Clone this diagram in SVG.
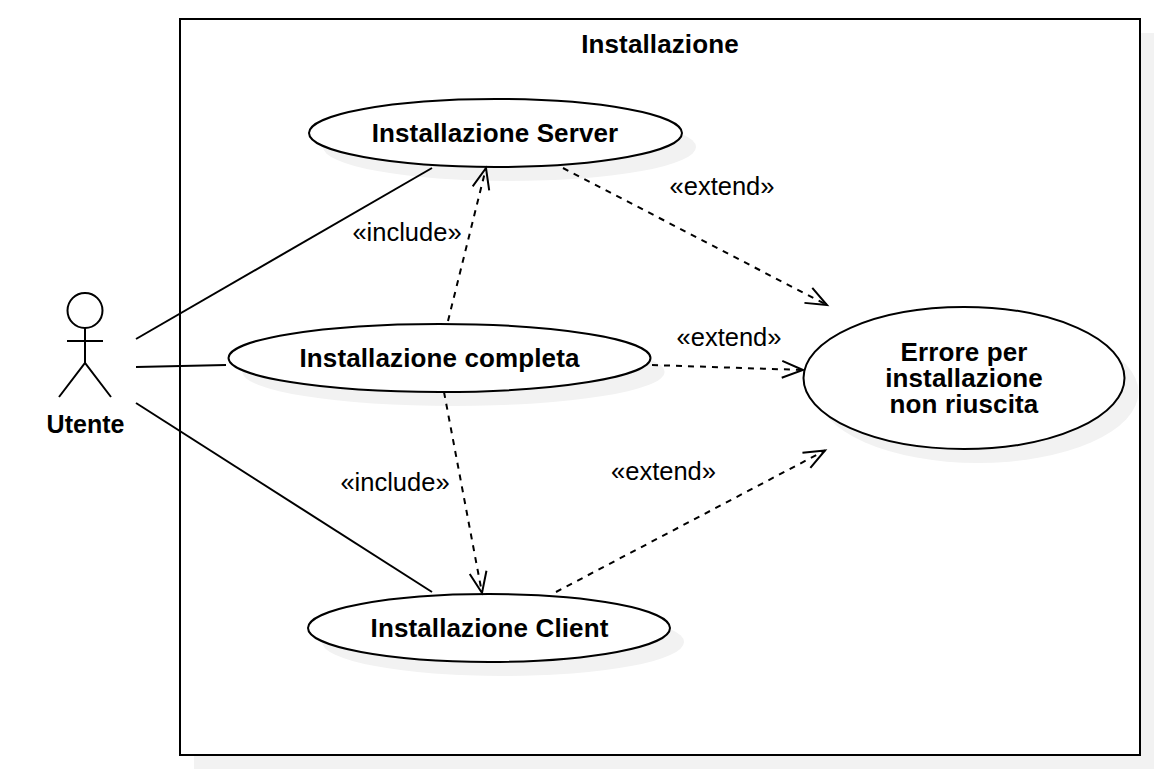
<svg xmlns="http://www.w3.org/2000/svg" width="1176" height="769" viewBox="0 0 1176 769">
<style>
.shadow{fill:#f2f2f2;stroke:none}
.shape{fill:#fff;stroke:#000;stroke-width:2}
.line{fill:none;stroke:#000;stroke-width:2}
.dash{fill:none;stroke:#000;stroke-width:2;stroke-dasharray:6 6}
.b{font-family:"Liberation Sans",Arial,sans-serif;font-weight:700;font-size:26px;letter-spacing:.12px;fill:#000;text-anchor:middle}
.a{font-family:"Liberation Sans",Arial,sans-serif;font-weight:700;font-size:25px;fill:#000;text-anchor:middle}
.l{font-family:"Liberation Sans",Arial,sans-serif;font-size:25.500px;fill:#000;text-anchor:middle}
</style>
<defs>
<marker id="open" markerUnits="userSpaceOnUse" markerWidth="30" markerHeight="30" refX="24" refY="12" orient="auto" overflow="visible">
<path d="M3 3.500L24 12L3 20.500" fill="none" stroke="#000" stroke-width="2"/>
</marker>
</defs>
<g id="frame">
<rect class="shadow" x="194" y="33" width="960" height="736"/>
<rect class="shape" x="180" y="19" width="960" height="736"/>
<text class="b" x="660" y="53">Installazione</text>
</g>
<g id="actor-utente">
<circle class="line" cx="85" cy="310.5" r="17.5"/>
<path class="line" d="M85 328V363M67 341H103M59 397L85 363L111 397"/>
<text class="a" x="85.500" y="433">Utente</text>
</g>
<g id="usecase-server">
<ellipse class="shadow" cx="509.500" cy="147" rx="186.500" ry="34"/>
<ellipse class="shape" cx="495.500" cy="133" rx="186.500" ry="34"/>
<text class="b" x="495" y="142">Installazione Server</text>
</g>
<g id="usecase-completa">
<ellipse class="shadow" cx="453.500" cy="372" rx="211" ry="34"/>
<ellipse class="shape" cx="439.500" cy="358" rx="211" ry="34"/>
<text class="b" x="439.500" y="367">Installazione completa</text>
</g>
<g id="usecase-client">
<ellipse class="shadow" cx="503" cy="642" rx="181" ry="34"/>
<ellipse class="shape" cx="489" cy="628" rx="181" ry="34"/>
<text class="b" x="489.500" y="637">Installazione Client</text>
</g>
<g id="usecase-errore">
<ellipse class="shadow" cx="978" cy="392" rx="160.500" ry="71"/>
<ellipse class="shape" cx="964" cy="378" rx="160.500" ry="71"/>
<text class="b" y="361"><tspan x="964">Errore per</tspan><tspan x="964" dy="26">installazione</tspan><tspan x="964" dy="26">non riuscita</tspan></text>
</g>
<g id="connectors">
<path class="line" d="M136 339L432 168"/>
<path class="line" d="M136 367L226 365"/>
<path class="line" d="M136 403L432 592"/>
<path class="dash" marker-end="url(#open)" d="M448 321L486 168"/>
<path class="dash" marker-end="url(#open)" d="M444 392L482 593"/>
<path class="dash" marker-end="url(#open)" d="M563 168L827 305"/>
<path class="dash" marker-end="url(#open)" d="M652 365L803 370"/>
<path class="dash" marker-end="url(#open)" d="M556 592L825 450.500"/>
<text class="l" x="407" y="241">«include»</text>
<text class="l" x="395" y="491">«include»</text>
<text class="l" x="722" y="195">«extend»</text>
<text class="l" x="729" y="346">«extend»</text>
<text class="l" x="663.500" y="480">«extend»</text>
</g>
</svg>
